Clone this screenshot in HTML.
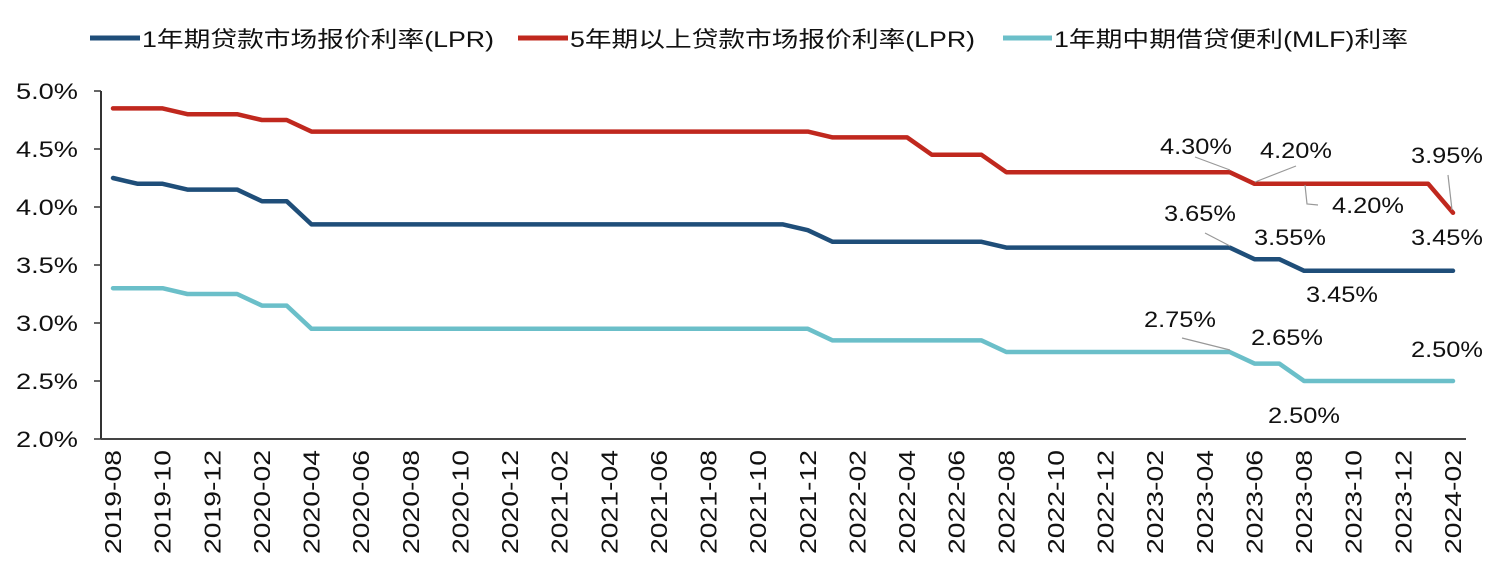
<!DOCTYPE html>
<html><head><meta charset="utf-8">
<style>
html,body{margin:0;padding:0;background:#fff;}
svg{display:block;font-family:"Liberation Sans","Noto Sans CJK SC",sans-serif;}
</style></head>
<body>
<svg id="chart" width="1496" height="576" viewBox="0 0 1496 576" xmlns="http://www.w3.org/2000/svg">
  <g font-size="22" fill="#111">
    <g>
      <line x1="90" y1="38" x2="140" y2="38" stroke="#1f4e79" stroke-width="5"/>
      <text x="142" y="47" textLength="352" lengthAdjust="spacingAndGlyphs">1年期贷款市场报价利率(LPR)</text>
    </g>
    <g>
      <line x1="518" y1="38" x2="568" y2="38" stroke="#c0281e" stroke-width="5"/>
      <text x="570" y="47" textLength="405" lengthAdjust="spacingAndGlyphs">5年期以上贷款市场报价利率(LPR)</text>
    </g>
    <g>
      <line x1="1003" y1="38" x2="1052" y2="38" stroke="#6bbfc9" stroke-width="5"/>
      <text x="1054" y="47" textLength="354" lengthAdjust="spacingAndGlyphs">1年期中期借贷便利(MLF)利率</text>
    </g>
  </g>
  <g id="axes"></g>
  <g id="series"></g>
  <g id="annotations" font-size="22" fill="#111"></g>
</svg>
<script>
const startYear = 2019, startMonth = 8;
const lpr1y = [4.25,4.20,4.20,4.15,4.15,4.15,4.05,4.05,3.85,3.85,3.85,3.85,3.85,3.85,3.85,3.85,3.85,3.85,3.85,3.85,3.85,3.85,3.85,3.85,3.85,3.85,3.85,3.85,3.80,3.70,3.70,3.70,3.70,3.70,3.70,3.70,3.65,3.65,3.65,3.65,3.65,3.65,3.65,3.65,3.65,3.65,3.55,3.55,3.45,3.45,3.45,3.45,3.45,3.45,3.45];
const lpr5y = [4.85,4.85,4.85,4.80,4.80,4.80,4.75,4.75,4.65,4.65,4.65,4.65,4.65,4.65,4.65,4.65,4.65,4.65,4.65,4.65,4.65,4.65,4.65,4.65,4.65,4.65,4.65,4.65,4.65,4.60,4.60,4.60,4.60,4.45,4.45,4.45,4.30,4.30,4.30,4.30,4.30,4.30,4.30,4.30,4.30,4.30,4.20,4.20,4.20,4.20,4.20,4.20,4.20,4.20,3.95];
const mlf = [3.30,3.30,3.30,3.25,3.25,3.25,3.15,3.15,2.95,2.95,2.95,2.95,2.95,2.95,2.95,2.95,2.95,2.95,2.95,2.95,2.95,2.95,2.95,2.95,2.95,2.95,2.95,2.95,2.95,2.85,2.85,2.85,2.85,2.85,2.85,2.85,2.75,2.75,2.75,2.75,2.75,2.75,2.75,2.75,2.75,2.75,2.65,2.65,2.50,2.50,2.50,2.50,2.50,2.50,2.50];
const yTicks = [2.0,2.5,3.0,3.5,4.0,4.5,5.0];
const yTickLabels = ["2.0%","2.5%","3.0%","3.5%","4.0%","4.5%","5.0%"];

const NS = "http://www.w3.org/2000/svg";
const n = lpr1y.length;
const X0 = 113, X1 = 1453, Y0 = 439, Y1 = 91, V0 = 2.0, V1 = 5.0;
function xScale(i){ return X0 + (X1 - X0) * i / (n - 1); }
function yScale(v){ return Y0 - (v - V0) / (V1 - V0) * (Y0 - Y1); }
function mk(tag, attrs, parent){ const e = document.createElementNS(NS, tag); for (const k in attrs) e.setAttribute(k, attrs[k]); parent.appendChild(e); return e; }
function monthLabel(i){ const m = startMonth - 1 + i; const y = startYear + Math.floor(m / 12); const mm = (m % 12) + 1; return y + "-" + (mm < 10 ? "0" + mm : mm); }

const axes = document.getElementById("axes");
const yAxis = mk("line", {x1:101, y1:Y1, x2:101, y2:Y0, stroke:"#333", "stroke-width":2}, axes);


const xAxis = mk("line", {x1:101, y1:Y0, x2:1466, y2:Y0, stroke:"#444", "stroke-width":2}, axes);


yTicks.forEach((v, k) => {
  const y = yScale(v);
  const t = mk("line", {x1:94, y1:y, x2:101, y2:y, stroke:"#333", "stroke-width":1.5}, axes);
  
  
  const lb = mk("text", {x:78, y:y + 8, "text-anchor":"end", "font-size":22, fill:"#111", textLength:62, lengthAdjust:"spacingAndGlyphs"}, axes);
  
  
  lb.textContent = yTickLabels[k];
});
for (let i = 0; i < n; i += 2) {
  const x = xScale(i);
  const lb = mk("text", {transform:"translate(" + (x + 8) + ",450) rotate(-90)", "text-anchor":"end", "font-size":23, fill:"#111", textLength:104, lengthAdjust:"spacingAndGlyphs"}, axes);
  
  
  lb.textContent = monthLabel(i);
}

const series = document.getElementById("series");
[[lpr5y, "#c0281e", "line-lpr-5y"], [lpr1y, "#1f4e79", "line-lpr-1y"], [mlf, "#6bbfc9", "line-mlf"]].forEach(s => {
  const pts = s[0].map((v, i) => xScale(i).toFixed(1) + "," + yScale(v).toFixed(1)).join(" ");
  const pl = mk("polyline", {points:pts, fill:"none", stroke:s[1], "stroke-width":4.5, "stroke-linejoin":"round", "stroke-linecap":"round"}, series);
  
  
});

const ann = document.getElementById("annotations");
const labels = [
  ["4.30%",1196,154],["4.20%",1296,158],["4.20%",1368,213],["3.95%",1447,163],["3.45%",1447,245],
  ["3.65%",1200,221],["3.55%",1290,245],["3.45%",1342,302],
  ["2.75%",1180,327],["2.65%",1287,345],["2.50%",1447,357],["2.50%",1304,423]
];
labels.forEach(l => {
  const t = mk("text", {x:l[1], y:l[2], "text-anchor":"middle", textLength:72, lengthAdjust:"spacingAndGlyphs"}, ann);
  
  
  t.textContent = l[0];
});
const leaders = [
  "M1195,157 L1230,170","M1296,166 L1255,182","M1305,185 L1307,204 L1318,205",
  "M1448,175 L1452,210","M1205,233 L1230,246","M1182,338 L1230,350"
];
leaders.forEach(d => {
  const p = mk("path", {d:d, fill:"none", stroke:"#999", "stroke-width":1.2}, ann);
  
  
});
</script>
</body></html>
